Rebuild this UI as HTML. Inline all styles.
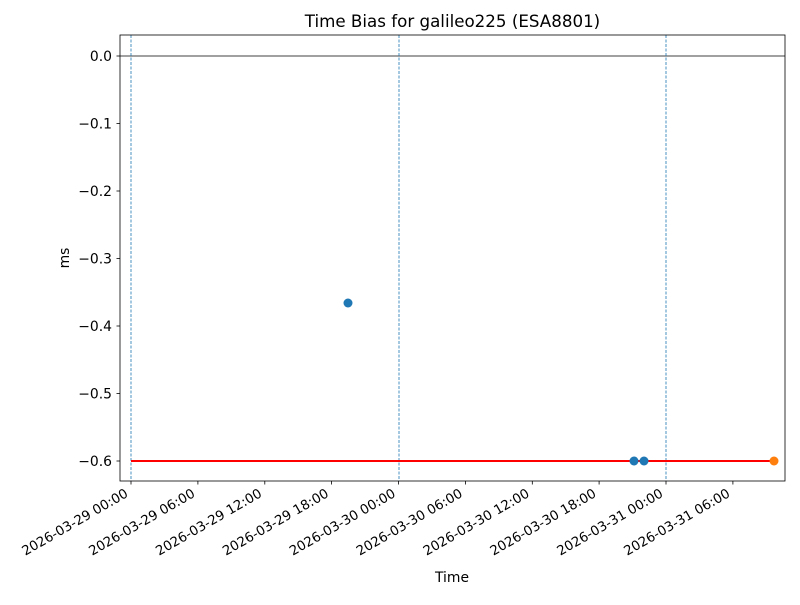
<!DOCTYPE html>
<html><head><meta charset="utf-8"><style>
body{margin:0;background:#fff;}
svg text{font-family:"DejaVu Sans","Liberation Sans",sans-serif;fill:#000;}
</style></head><body>
<svg width="800" height="600" viewBox="0 0 800 600" xmlns="http://www.w3.org/2000/svg">
<rect width="800" height="600" fill="#fff"/>
<text x="452.5" y="27" font-size="16.7" text-anchor="middle">Time Bias for galileo225 (ESA8801)</text>
<line x1="120" y1="56" x2="785" y2="56" stroke="#000" stroke-width="0.8"/>
<g stroke="#1f77b4" stroke-width="0.8" stroke-dasharray="3,1.5">
<line x1="131" y1="35" x2="131" y2="481"/>
<line x1="399" y1="35" x2="399" y2="481"/>
<line x1="666" y1="35" x2="666" y2="481"/>
</g>
<line x1="131" y1="461" x2="774" y2="461" stroke="#ff0000" stroke-width="2"/>
<circle cx="348" cy="303" r="4.5" fill="#1f77b4"/>
<circle cx="634" cy="461" r="4.5" fill="#1f77b4"/>
<circle cx="644" cy="461" r="4.5" fill="#1f77b4"/>
<circle cx="774" cy="461" r="4.5" fill="#ff7f0e"/>
<rect x="120" y="35" width="665" height="446" fill="none" stroke="#000" stroke-width="0.8"/>
<g stroke="#000" stroke-width="0.8">
<line x1="116.5" y1="56" x2="120" y2="56"/>
<line x1="116.5" y1="123.5" x2="120" y2="123.5"/>
<line x1="116.5" y1="191" x2="120" y2="191"/>
<line x1="116.5" y1="258.5" x2="120" y2="258.5"/>
<line x1="116.5" y1="326" x2="120" y2="326"/>
<line x1="116.5" y1="393.5" x2="120" y2="393.5"/>
<line x1="116.5" y1="461" x2="120" y2="461"/>
</g>
<g font-size="13.9" text-anchor="end">
<text x="112" y="61">0.0</text>
<text x="112" y="128.5">−0.1</text>
<text x="112" y="196">−0.2</text>
<text x="112" y="263.5">−0.3</text>
<text x="112" y="331">−0.4</text>
<text x="112" y="398.5">−0.5</text>
<text x="112" y="466">−0.6</text>
</g>
<text transform="translate(69,258) rotate(-90)" font-size="13.9" text-anchor="middle">ms</text>
<g stroke="#000" stroke-width="0.8">
<line x1="131" y1="481" x2="131" y2="484.5"/>
<line x1="197.9" y1="481" x2="197.9" y2="484.5"/>
<line x1="264.8" y1="481" x2="264.8" y2="484.5"/>
<line x1="331.6" y1="481" x2="331.6" y2="484.5"/>
<line x1="398.5" y1="481" x2="398.5" y2="484.5"/>
<line x1="465.4" y1="481" x2="465.4" y2="484.5"/>
<line x1="532.3" y1="481" x2="532.3" y2="484.5"/>
<line x1="599.1" y1="481" x2="599.1" y2="484.5"/>
<line x1="666" y1="481" x2="666" y2="484.5"/>
<line x1="732.9" y1="481" x2="732.9" y2="484.5"/>
</g>
<g font-size="13.3" text-anchor="end">
<text transform="translate(129,496) rotate(-30)">2026-03-29 00:00</text>
<text transform="translate(195.9,496) rotate(-30)">2026-03-29 06:00</text>
<text transform="translate(262.8,496) rotate(-30)">2026-03-29 12:00</text>
<text transform="translate(329.6,496) rotate(-30)">2026-03-29 18:00</text>
<text transform="translate(396.5,496) rotate(-30)">2026-03-30 00:00</text>
<text transform="translate(463.4,496) rotate(-30)">2026-03-30 06:00</text>
<text transform="translate(530.3,496) rotate(-30)">2026-03-30 12:00</text>
<text transform="translate(597.1,496) rotate(-30)">2026-03-30 18:00</text>
<text transform="translate(664,496) rotate(-30)">2026-03-31 00:00</text>
<text transform="translate(730.9,496) rotate(-30)">2026-03-31 06:00</text>
</g>
<text x="452" y="582" font-size="13.9" text-anchor="middle">Time</text>
</svg>
</body></html>
